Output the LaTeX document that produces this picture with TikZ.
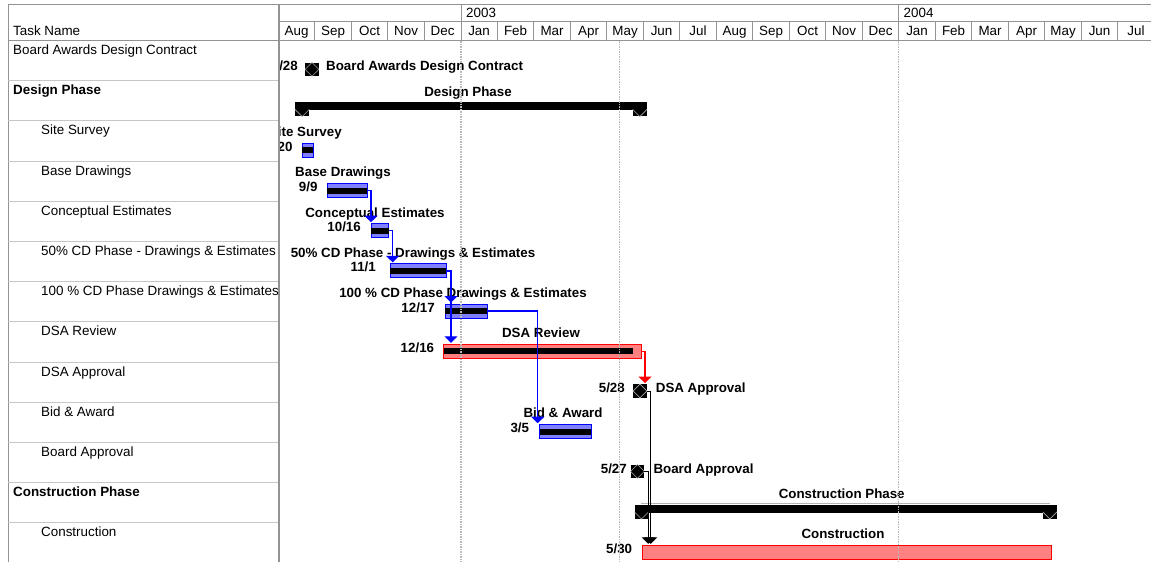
\documentclass[tikz,border=0pt]{standalone}
\usepackage{fontspec}
\setmainfont{Liberation Sans}
\usetikzlibrary{arrows.meta,calc}
\begin{document}
\begin{tikzpicture}[x=1pt,y=-1pt,
  tline/.style={draw=gray!85, line width=1pt},
  rline/.style={draw=gray!45, line width=0.9pt},
  gridl/.style={draw=gray!55, line width=1.3pt, dash pattern=on 1.5pt off 1pt},
  reg/.style={font=\fontsize{13.4}{16}\selectfont, inner sep=0pt},
  tname/.style={reg, anchor=base west},
  bname/.style={tname, font=\fontsize{13.4}{16}\selectfont\bfseries},
  mon/.style={reg, anchor=base},
  lbl/.style={inner sep=0pt, font=\fontsize{13.33}{16}\selectfont\bfseries, anchor=base},
  lblw/.style={lbl, anchor=base west},
  datel/.style={lbl, anchor=base east},
  bbar/.style={draw=blue, fill=blue!50, line width=1pt, inner sep=0pt, minimum height=14pt, anchor=north west},
  rbar/.style={bbar, draw=red, fill=red!50},
  prog/.style={fill=black, inner sep=0pt, minimum height=6pt, anchor=west},
  ms/.style={fill=black, inner sep=0pt, minimum size=13.4pt},
  msd/.style={draw=gray!70, line width=0.6pt},
  sumbar/.style={fill=black, inner sep=0pt, minimum height=8pt, anchor=north west},
  sumcap/.style={fill=black, inner sep=0pt, minimum size=14pt},
  bconn/.style={draw=blue, line width=1.3pt, -{Triangle[width=13pt,length=6.5pt]}, shorten >=1pt},
  rconn/.style={bconn, draw=red},
  kconn/.style={draw=black, line width=1pt, -{Triangle[width=13pt,length=6.5pt]}, shorten >=1pt}
]
\useasboundingbox (0,0) rectangle (1151,562);
\fill[white] (0,0) rectangle (1151,562);

% ---------- table frame ----------
\draw[tline] (8,4) -- (1151,4);
\draw[tline] (8,4) -- (8,562);
\draw[tline] (8,40) -- (1151,40);
\draw[tline] (279,21) -- (1151,21);
\draw[draw=gray!85, line width=1.6pt] (279,4) -- (279,562);
\foreach \i in {1,...,12} {
  \draw[rline] (8,{40.4+40.2*\i}) -- (278,{40.4+40.2*\i});
}
% month separators
\foreach \i in {1,2,3,4,6,7,8,9,10,11,12,13,14,15,16,18,19,20,21,22,23} {
  \draw[tline] ({278.3+36.5*\i},21) -- ({278.3+36.5*\i},40);
}
\draw[tline] (461,4) -- (461,40);
\draw[tline] (898.8,4) -- (898.8,40);

% ---------- header text ----------
\node[tname] (hdr) at (13,35) {Task Name};
\node[tname] (y2003) at (466,17.3) {2003};
\node[tname] (y2004) at (903.5,17.3) {2004};
\foreach \m [count=\i from 0] in {Aug,Sep,Oct,Nov,Dec,Jan,Feb,Mar,Apr,May,Jun,Jul,Aug,Sep,Oct,Nov,Dec,Jan,Feb,Mar,Apr,May,Jun,Jul} {
  \node[mon] (m\i) at ({278.3+36.5*\i+18.25},35) {\m};
}

% ---------- task names ----------
\begin{scope}
\clip (9,41) rectangle (278,562);
\node[tname] (t0) at (13,54.4) {Board Awards Design Contract};
\node[bname] (t1) at (13,94.6) {Design Phase};
\node[tname] (t2) at (41,134.8) {Site Survey};
\node[tname] (t3) at (41,175) {Base Drawings};
\node[tname] (t4) at (41,215.2) {Conceptual Estimates};
\node[tname] (t5) at (41,255.4) {50\% CD Phase - Drawings \& Estimates};
\node[tname] (t6) at (41,295.6) {100 \% CD Phase Drawings \& Estimates};
\node[tname] (t7) at (41,335.8) {DSA Review};
\node[tname] (t8) at (41,376) {DSA Approval};
\node[tname] (t9) at (41,416.2) {Bid \& Award};
\node[tname] (t10) at (41,456.4) {Board Approval};
\node[bname] (t11) at (13,496.6) {Construction Phase};
\node[tname] (t12) at (41,536.8) {Construction};
\end{scope}

% ---------- chart ----------
\begin{scope}
\clip (280,41) rectangle (1151,562);
% labels
\node[datel] (d0) at (298,70) {8/28};
\node[lblw] (l0) at (326,70) {Board Awards Design Contract};
\node[lbl] (l1) at (468,96.2) {Design Phase};
\node[lbl] (l2) at (305.4,136) {Site Survey};
\node[datel] (d2) at (292.7,151) {8/20};
\node[lbl] (l3) at (343,176) {Base Drawings};
\node[datel] (d3) at (317.7,191.7) {9/9};
\node[lbl] (l4) at (375,217) {Conceptual Estimates};
\node[datel] (d4) at (361,231) {10/16};
\node[lbl] (l5) at (413,257) {50\% CD Phase - Drawings \& Estimates};
\node[datel] (d5) at (376,271) {11/1};
\node[lbl] (l6) at (463,297.3) {100 \% CD Phase Drawings \& Estimates};
\node[datel] (d6) at (435,312) {12/17};
\node[lbl] (l7) at (541,337.5) {DSA Review};
\node[datel] (d7) at (434.3,352) {12/16};
\node[datel] (d8) at (625,392) {5/28};
\node[lblw] (l8) at (655.7,392) {DSA Approval};
\node[lbl] (l9) at (563,417.9) {Bid \& Award};
\node[datel] (d9) at (529.3,432.3) {3/5};
\node[datel] (d10) at (627,473) {5/27};
\node[lblw] (l10) at (653.3,473) {Board Approval};
\node[lbl] (l11) at (841.7,498.3) {Construction Phase};
\node[lbl] (l12) at (843,538.5) {Construction};
\node[datel] (d12) at (632.3,553) {5/30};

% milestones
\node[ms] (bac) at (312,69.4) {};
\draw[msd] (bac.north) -- (bac.east) -- (bac.south) -- (bac.west) -- cycle;
\node[ms] (dsaa) at (640,391) {};
\draw[msd] (dsaa.north) -- (dsaa.east) -- (dsaa.south) -- (dsaa.west) -- cycle;
\node[ms] (bapp) at (637.5,471.4) {};
\draw[msd] (bapp.north) -- (bapp.east) -- (bapp.south) -- (bapp.west) -- cycle;

% summary bars
\node[sumbar, minimum width=351.6pt] (dp) at (295,102.2) {};
\node[sumcap, anchor=north west] (dpl) at (dp.north west) {};
\node[sumcap, anchor=north east] (dpr) at (dp.north east) {};
\draw[msd] (dpl.west) -- (dpl.south) -- (dpl.east);
\draw[msd] (dpr.west) -- (dpr.south) -- (dpr.east);

\draw[draw=gray!60, line width=0.8pt] (641,503.6) -- (1050,503.6);
\node[sumbar, minimum width=422.4pt] (cp) at (634.3,504.6) {};
\node[sumcap, anchor=north west] (cpl) at (cp.north west) {};
\node[sumcap, anchor=north east] (cpr) at (cp.north east) {};
\draw[msd] (cpl.west) -- (cpl.south) -- (cpl.east);
\draw[msd] (cpr.west) -- (cpr.south) -- (cpr.east);

% task bars
\node[bbar, minimum width=11pt] (ss) at (302,142.8) {};
\node[prog, minimum width=11pt] (ssp) at (ss.west) {};
\node[bbar, minimum width=40pt] (bd) at (326.7,183) {};
\node[prog, minimum width=40pt] (bdp) at (bd.west) {};
\node[bbar, minimum width=17.6pt] (ce) at (370.7,223.2) {};
\node[prog, minimum width=17.6pt] (cep) at (ce.west) {};
\node[bbar, minimum width=55.7pt] (cd50) at (390,263.4) {};
\node[prog, minimum width=55.7pt] (cd50p) at (cd50.west) {};
\node[bbar, minimum width=41.7pt] (cd100) at (445,303.6) {};
\node[prog, minimum width=41.7pt] (cd100p) at (cd100.west) {};
\node[rbar, minimum width=197.4pt] (dsar) at (443.3,343.8) {};
\node[prog, minimum width=189pt] (dsarp) at (dsar.west) {};
\node[bbar, minimum width=51.4pt] (bid) at (539.3,424.2) {};
\node[prog, minimum width=51.4pt] (bidp) at (bid.west) {};
\node[rbar, minimum width=409pt] (con) at (641.7,544.8) {};

% connectors
\draw[bconn] (bd.east) -| ([xshift=0.3pt]ce.north west);
\draw[bconn] (ce.east) -| ([xshift=2.7pt]cd50.north west);
\draw[bconn] (cd50.east) -| ([xshift=6pt]cd100.north west);
\draw[bconn] (cd50.east) -| ([xshift=7.7pt]dsar.north west);
\draw[bconn] (cd100.east) -| ([xshift=-1.6pt]bid.north west);
\draw[rconn] (dsar.east) -| ([xshift=5pt]dsaa.north);
\draw[kconn] (bapp.east) -| ([xshift=6.6pt]con.north west);
\draw[kconn] (dsaa.east) -| ([xshift=9pt]con.north west);

% grid lines
\draw[gridl] (461,41) -- (461,562);
\draw[gridl] (619.3,41) -- (619.3,562);
\draw[gridl] (898.8,41) -- (898.8,562);
\end{scope}
\end{tikzpicture}
\end{document}
